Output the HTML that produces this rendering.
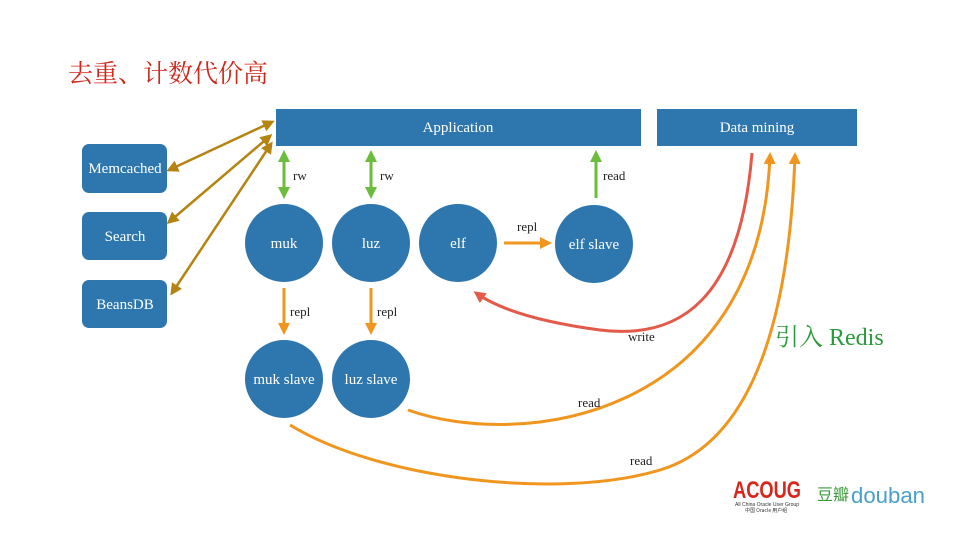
<!DOCTYPE html>
<html><head><meta charset="utf-8"><style>
body{margin:0;background:#fff;}
svg{display:block;font-family:"Liberation Serif","Noto Serif CJK SC",serif;}
</style></head><body>
<svg width="960" height="540" viewBox="0 0 960 540">
<defs>
<marker id="br" markerWidth="12" markerHeight="12" refX="9" refY="6" orient="auto-start-reverse" markerUnits="userSpaceOnUse"><path d="M0,0 L12,6 L0,12 z" fill="#b5830f"/></marker>
<marker id="gr" markerWidth="12" markerHeight="12" refX="9" refY="6" orient="auto-start-reverse" markerUnits="userSpaceOnUse"><path d="M0,0 L12,6 L0,12 z" fill="#6cbd3c"/></marker>
<marker id="or" markerWidth="12" markerHeight="12" refX="9" refY="6" orient="auto-start-reverse" markerUnits="userSpaceOnUse"><path d="M0,0 L12,6 L0,12 z" fill="#f0961e"/></marker>
<marker id="rd" markerWidth="12" markerHeight="12" refX="9" refY="6" orient="auto-start-reverse" markerUnits="userSpaceOnUse"><path d="M0,0 L12,6 L0,12 z" fill="#e45a4a"/></marker>
</defs>
<text x="68" y="82" font-size="25" fill="#d0261b" font-family="'Noto Serif CJK SC',serif">去重、计数代价高</text>
<g fill="#2e77ae">
<rect x="82" y="144" width="85" height="49" rx="7"/>
<rect x="82" y="212" width="85" height="48" rx="7"/>
<rect x="82" y="280" width="85" height="48" rx="7"/>
<rect x="276" y="109" width="365" height="37"/>
<rect x="657" y="109" width="200" height="37"/>
<circle cx="284" cy="243" r="39"/><circle cx="371" cy="243" r="39"/><circle cx="458" cy="243" r="39"/>
<circle cx="594" cy="244" r="39"/><circle cx="284" cy="379" r="39"/><circle cx="371" cy="379" r="39"/>
</g>
<g fill="#fff" font-size="15" text-anchor="middle">
<text x="125" y="173">Memcached</text><text x="125" y="241">Search</text><text x="125" y="309">BeansDB</text>
<text x="458" y="132">Application</text><text x="757" y="132">Data mining</text>
<text x="284" y="248">muk</text><text x="371" y="248">luz</text><text x="458" y="248">elf</text>
<text x="594" y="249">elf slave</text><text x="284" y="384">muk slave</text><text x="371" y="384">luz slave</text>
</g>
<g stroke="#b5830f" stroke-width="2.5" marker-start="url(#br)" marker-end="url(#br)">
<line x1="169" y1="170" x2="272" y2="122"/><line x1="169" y1="222" x2="270" y2="136"/><line x1="172" y1="293" x2="271" y2="144"/>
</g>
<g stroke="#6cbd3c" stroke-width="3">
<line x1="284" y1="153" x2="284" y2="196" marker-start="url(#gr)" marker-end="url(#gr)"/>
<line x1="371" y1="153" x2="371" y2="196" marker-start="url(#gr)" marker-end="url(#gr)"/>
<line x1="596" y1="198" x2="596" y2="153" marker-end="url(#gr)"/>
</g>
<g stroke="#f0961e" stroke-width="3" fill="none">
<line x1="284" y1="288" x2="284" y2="332" marker-end="url(#or)"/>
<line x1="371" y1="288" x2="371" y2="332" marker-end="url(#or)"/>
<line x1="504" y1="243" x2="549" y2="243" marker-end="url(#or)"/>
<path d="M408,410 C520,450 760,420 770,155" marker-end="url(#or)"/>
<path d="M290,425 C380,480 560,500 660,470 C760,440 790,300 795,155" marker-end="url(#or)"/>
</g>
<path d="M752,153 C740,300 680,340 600,330 C540,322 500,310 476,293" stroke="#e45a4a" stroke-width="3" fill="none" marker-end="url(#rd)"/>
<g font-size="13" fill="#222">
<text x="293" y="180">rw</text><text x="380" y="180">rw</text><text x="603" y="180">read</text>
<text x="290" y="316">repl</text><text x="377" y="316">repl</text><text x="517" y="231">repl</text>
<text x="628" y="341">write</text><text x="578" y="407">read</text><text x="630" y="465">read</text>
</g>
<text x="775" y="345" font-size="24" fill="#2a9a3a">引入 Redis</text>
<text x="733" y="498" font-size="24" font-weight="bold" fill="#d9261c" font-family="'Liberation Sans',sans-serif" textLength="68" lengthAdjust="spacingAndGlyphs">ACOUG</text>
<text x="735" y="506" font-size="5" fill="#333" font-family="'Liberation Sans',sans-serif" textLength="64" lengthAdjust="spacingAndGlyphs">All China Oracle User Group</text>
<text x="745" y="512" font-size="5" fill="#333" font-family="'Noto Sans CJK SC',sans-serif">中国 Oracle 用户组</text>
<text x="817" y="500" font-size="16" fill="#3b9a3b" font-family="'Noto Sans CJK SC',sans-serif">豆瓣</text>
<text x="851" y="503" font-size="22" fill="#4aa0c8" font-family="'Liberation Sans',sans-serif" textLength="74" lengthAdjust="spacingAndGlyphs">douban</text>
</svg>
</body></html>
